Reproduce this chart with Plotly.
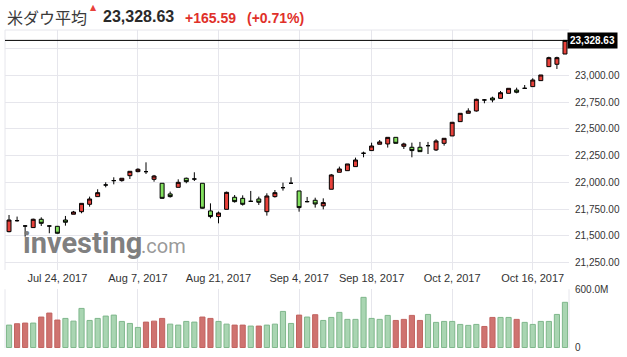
import plotly.graph_objects as go

# ---------------- data ----------------
dates = [
    "2017-07-14", "2017-07-17", "2017-07-18", "2017-07-19", "2017-07-20", "2017-07-21",
    "2017-07-24", "2017-07-25", "2017-07-26", "2017-07-27", "2017-07-28", "2017-07-31",
    "2017-08-01", "2017-08-02", "2017-08-03", "2017-08-04", "2017-08-07", "2017-08-08",
    "2017-08-09", "2017-08-10", "2017-08-11", "2017-08-14", "2017-08-15", "2017-08-16",
    "2017-08-17", "2017-08-18", "2017-08-21", "2017-08-22", "2017-08-23", "2017-08-24",
    "2017-08-25", "2017-08-28", "2017-08-29", "2017-08-30", "2017-08-31", "2017-09-01",
    "2017-09-05", "2017-09-06", "2017-09-07", "2017-09-08", "2017-09-11", "2017-09-12",
    "2017-09-13", "2017-09-14", "2017-09-15", "2017-09-18", "2017-09-19", "2017-09-20",
    "2017-09-21", "2017-09-22", "2017-09-25", "2017-09-26", "2017-09-27", "2017-09-28",
    "2017-09-29", "2017-10-02", "2017-10-03", "2017-10-04", "2017-10-05", "2017-10-06",
    "2017-10-09", "2017-10-10", "2017-10-11", "2017-10-12", "2017-10-13", "2017-10-16",
    "2017-10-17", "2017-10-18", "2017-10-19", "2017-10-20",
]

opens = [
    21538, 21641, 21591, 21576, 21654, 21591, 21588, 21647, 21701, 21725,
    21794, 21866, 21975, 22016, 22016, 22062, 22100, 22100, 22028, 21991,
    21891, 21953, 22038, 22031, 21991, 21732, 21679, 21747, 21860, 21850,
    21822, 21844, 21725, 21866, 21950, 21991, 21919, 21819, 21832, 21779,
    21935, 22094, 22109, 22147, 22272, 22297, 22356, 22359, 22421, 22337,
    22328, 22328, 22343, 22303, 22365, 22434, 22568, 22646, 22668, 22771,
    22789, 22786, 22833, 22864, 22880, 22896, 22952, 23083, 23105, 23201,
]
highs = [
    21694, 21679, 21598, 21660, 21672, 21594, 21591, 21685, 21732, 21803,
    21866, 21935, 22000, 22047, 22038, 22103, 22131, 22187, 22069, 21991,
    21913, 22028, 22044, 22094, 21991, 21803, 21726, 21913, 21881, 21878,
    21919, 21866, 21897, 21928, 21997, 22047, 21919, 21863, 21856, 21850,
    22078, 22147, 22172, 22231, 22287, 22371, 22396, 22421, 22421, 22371,
    22371, 22378, 22378, 22403, 22412, 22562, 22646, 22693, 22783, 22780,
    22802, 22855, 22880, 22886, 22911, 22974, 23005, 23176, 23176, 23328.63,
]
lows = [
    21532, 21632, 21491, 21573, 21591, 21523, 21520, 21594, 21701, 21710,
    21772, 21866, 21953, 21981, 22006, 22031, 22094, 22078, 22006, 21847,
    21857, 21953, 21991, 22012, 21754, 21663, 21616, 21747, 21810, 21782,
    21819, 21788, 21688, 21857, 21922, 21988, 21725, 21813, 21763, 21747,
    21935, 22094, 22109, 22147, 22234, 22297, 22356, 22325, 22365, 22312,
    22234, 22287, 22265, 22293, 22343, 22434, 22568, 22646, 22662, 22740,
    22749, 22786, 22833, 22833, 22874, 22896, 22952, 23083, 23061, 23201,
]
closes = [
    21647, 21641, 21591, 21654, 21616, 21591, 21523, 21626, 21722, 21803,
    21844, 21903, 21975, 22016, 22038, 22103, 22122, 22100, 22059, 21850,
    21866, 22000, 22006, 22031, 21757, 21679, 21713, 21906, 21819, 21794,
    21822, 21813, 21872, 21903, 21950, 21991, 21763, 21819, 21797, 21810,
    22069, 22125, 22172, 22209, 22272, 22340, 22378, 22421, 22365, 22359,
    22297, 22287, 22343, 22387, 22412, 22562, 22646, 22668, 22777, 22771,
    22771, 22839, 22880, 22843, 22880, 22958, 23005, 23167, 23167, 23328.63,
]

# volume in millions of shares
volumes_m = [
    231, 245, 252, 252, 314, 355, 283, 300, 272, 403,
    279, 300, 324, 334, 269, 248, 207, 262, 272, 300,
    241, 231, 269, 262, 314, 300, 269, 241, 231, 231,
    221, 221, 231, 241, 372, 248, 334, 314, 338, 279,
    310, 362, 290, 290, 517, 300, 290, 331, 279, 290,
    331, 279, 341, 259, 269, 269, 238, 228, 238, 217,
    310, 310, 310, 290, 259, 238, 269, 269, 341, 466,
]
# volume bar direction as shown: "u" (red) / "d" (green)
vol_dir = [
    "d", "u", "u", "d", "u", "u", "u", "d", "d", "d",
    "d", "d", "d", "d", "d", "d", "d", "u", "u", "u",
    "d", "d", "d", "d", "u", "u", "d", "d", "u", "u",
    "d", "u", "d", "d", "d", "d", "u", "d", "u", "d",
    "d", "d", "d", "d", "d", "d", "d", "d", "u", "u",
    "u", "u", "d", "d", "d", "d", "d", "d", "d", "u",
    "u", "d", "d", "u", "d", "d", "d", "d", "d", "d",
]

tick_dates = ["2017-07-24", "2017-08-07", "2017-08-21", "2017-09-05",
              "2017-09-18", "2017-10-02", "2017-10-16"]
tick_labels = ["Jul 24, 2017", "Aug 7, 2017", "Aug 21, 2017", "Sep 4, 2017",
               "Sep 18, 2017", "Oct 2, 2017", "Oct 16, 2017"]
price_ticks = [21250, 21500, 21750, 22000, 22250, 22500, 22750, 23000, 23250]
price_tick_labels = ["21,250.00", "21,500.00", "21,750.00", "22,000.00", "22,250.00",
                     "22,500.00", "22,750.00", "23,000.00", ""]
vol_ticks = [0, 600]
vol_tick_labels = ["0", "600.0M"]

index_name = "米ダウ平均"
change_abs = 165.59
change_pct = 0.71

# ---------------- style ----------------
RED = "#e8413b"
GREEN = "#82e05e"
VOL_RED = "#cf7370"
VOL_RED_LINE = "#c26360"
VOL_GREEN = "#a9d5b2"
VOL_GREEN_LINE = "#7fb78b"
GRID = "#e6e6ec"
TXT = "#333333"
FONT = "Liberation Sans, Arial, sans-serif"

n = len(dates)
fig = go.Figure()

up_i = [i for i in range(n) if closes[i] > opens[i]]
dn_i = [i for i in range(n) if closes[i] < opens[i]]
dj_i = [i for i in range(n) if closes[i] == opens[i]]


def pick(idx, arr):
    return [arr[i] for i in idx]


for idx, fill in [(up_i, RED), (dn_i, GREEN), (dj_i, "black")]:
    fig.add_trace(go.Candlestick(
        x=pick(idx, dates), open=pick(idx, opens), high=pick(idx, highs),
        low=pick(idx, lows), close=pick(idx, closes),
        increasing=dict(fillcolor=fill, line=dict(color="black", width=1)),
        decreasing=dict(fillcolor=fill, line=dict(color="black", width=1)),
        whiskerwidth=0, showlegend=False, hoverinfo="skip",
        xaxis="x", yaxis="y",
    ))

fig.add_trace(go.Bar(
    x=dates, y=volumes_m,
    marker=dict(
        color=[VOL_RED if d == "u" else VOL_GREEN for d in vol_dir],
        line=dict(color=[VOL_RED_LINE if d == "u" else VOL_GREEN_LINE for d in vol_dir], width=1),
    ),
    showlegend=False, hoverinfo="skip", xaxis="x2", yaxis="y2",
))

fig.update_layout(
    width=627, height=357,
    margin=dict(l=5, r=58, t=30, b=9),
    paper_bgcolor="white", plot_bgcolor="white",
    font=dict(family=FONT, color=TXT),
    bargap=0.36, boxgap=0.3,
    xaxis=dict(
        type="category", categoryorder="array", categoryarray=dates,
        range=[-0.5, n - 0.5], domain=[0, 1], anchor="y",
        tickvals=tick_dates, ticktext=tick_labels,
        tickfont=dict(size=11, color=TXT, family=FONT),
        showgrid=True, gridcolor=GRID, gridwidth=1, ticks="",
        showline=False, zeroline=False, rangeslider=dict(visible=False),
    ),
    xaxis2=dict(
        type="category", categoryorder="array", categoryarray=dates,
        range=[-0.5, n - 0.5], domain=[0, 1], anchor="y2", matches="x",
        tickvals=tick_dates, showticklabels=False,
        showgrid=True, gridcolor=GRID, gridwidth=1, ticks="",
        showline=False, zeroline=False,
    ),
    yaxis=dict(
        domain=[0.2453, 1], range=[21179, 23426], side="right", anchor="x",
        tickvals=price_ticks, ticktext=price_tick_labels,
        tickfont=dict(size=10, color=TXT, family=FONT),
        showgrid=True, gridcolor=GRID, gridwidth=1, zeroline=False,
        ticks="", ticklabelstandoff=5,
    ),
    yaxis2=dict(
        domain=[0, 0.1846], range=[-5, 600], side="right", anchor="x2",
        tickvals=vol_ticks, ticktext=vol_tick_labels,
        tickfont=dict(size=10, color=TXT, family=FONT),
        showgrid=True, gridcolor=GRID, gridwidth=1, zeroline=False,
        ticks="", ticklabelstandoff=5,
    ),
)

# pane borders
border = dict(color=GRID, width=1)
fig.add_shape(type="line", xref="x domain", yref="y domain", x0=0, x1=0, y0=0, y1=1, line=border)
fig.add_shape(type="line", xref="x domain", yref="y domain", x0=0, x1=1, y0=1, y1=1, line=border)
fig.add_shape(type="line", xref="x2 domain", yref="y2 domain", x0=0, x1=0, y0=0, y1=1, line=border)
fig.add_shape(type="line", xref="x2 domain", yref="y2 domain", x0=1, x1=1, y0=0, y1=1, line=border)

# last price line + label
last = closes[-1]
fig.add_shape(type="line", xref="x domain", yref="y", x0=0, x1=1, y0=last, y1=last,
              line=dict(color="black", width=1))
fig.add_annotation(xref="paper", yref="y", x=0.997, y=last, xanchor="left", yanchor="middle",
                   text=f"<b>{last:,.2f}</b>", showarrow=False, bgcolor="black",
                   font=dict(size=10, color="white", family=FONT), borderpad=2)

# header
fig.add_annotation(xref="paper", yref="paper", x=0.0, y=1.041, xanchor="left", yanchor="middle",
                   text=index_name, showarrow=False,
                   font=dict(size=16, color="#3a3a3a", family="Noto Sans CJK JP"))
fig.add_annotation(xref="paper", yref="paper", x=0.1578, y=1.072, xanchor="center", yanchor="middle",
                   text="▲", showarrow=False, font=dict(size=8, color="#e8413b", family="DejaVu Sans"))
fig.add_annotation(xref="paper", yref="paper", x=0.171, y=1.041, xanchor="left", yanchor="middle",
                   text=f"<b>{last:,.2f}</b>", showarrow=False,
                   font=dict(size=16, color="#2a2a2a", family=FONT))
fig.add_annotation(xref="paper", yref="paper", x=0.3156, y=1.038, xanchor="left", yanchor="middle",
                   text=f"<b>+{change_abs:,.2f}</b>", showarrow=False,
                   font=dict(size=14, color="#e0302a", family=FONT))
fig.add_annotation(xref="paper", yref="paper", x=0.4255, y=1.038, xanchor="left", yanchor="middle",
                   text=f"<b>(+{change_pct:.2f}%)</b>", showarrow=False,
                   font=dict(size=14, color="#e0302a", family=FONT))

# watermark
fig.add_annotation(xref="paper", yref="paper", x=0.028, y=0.330, xanchor="left", yanchor="middle",
                   text="<b>investing</b>", showarrow=False,
                   font=dict(size=29, color="rgba(115,115,115,0.92)", family="Roboto"))
fig.add_annotation(xref="paper", yref="paper", x=0.2376, y=0.322, xanchor="left", yanchor="middle",
                   text=".com", showarrow=False,
                   font=dict(size=20, color="rgba(140,140,140,0.9)", family="Roboto"))

fig.write_html("out.html", config={"displayModeBar": False},
               post_script="document.body.style.margin='0';")
